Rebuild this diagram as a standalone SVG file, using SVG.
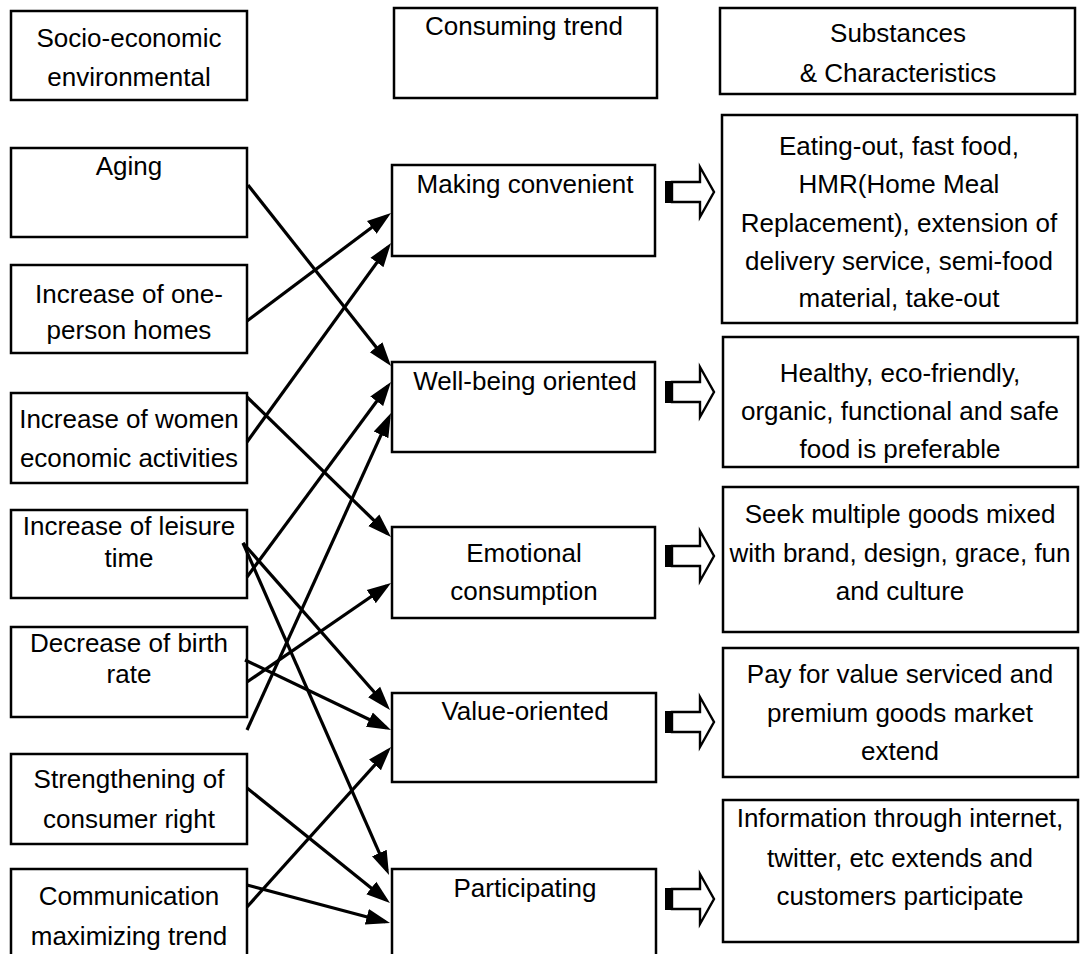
<svg xmlns="http://www.w3.org/2000/svg" width="1084" height="954" viewBox="0 0 1084 954">
<style>
.box{fill:#fff;stroke:#000;stroke-width:2.5}
text{font-family:"Liberation Sans",Arial,sans-serif;font-size:26px;fill:#000;text-anchor:middle}
.c{stroke:#000;stroke-width:3.2;fill:none;marker-end:url(#ah)}
.bar{fill:#000}
.blk{fill:#fff;stroke:#000;stroke-width:2.4;stroke-linejoin:miter}
</style>
<defs>
<marker id="ah" markerUnits="userSpaceOnUse" markerWidth="24" markerHeight="18" viewBox="0 0 24 18" refX="19" refY="9" orient="auto">
<path d="M0,1 L24,9 L0,17 z" fill="#000"/>
</marker>
</defs>
<rect width="1084" height="954" fill="#fff"/>

<g id="h-left"><rect class="box" x="11" y="11" width="236" height="89"/><text x="129" y="47">Socio-economic</text><text x="129" y="86">environmental</text></g>
<g id="h-mid"><rect class="box" x="394" y="8" width="263" height="90"/><text x="524" y="35">Consuming trend</text></g>
<g id="h-right"><rect class="box" x="720" y="8" width="355" height="86"/><text x="898" y="42">Substances</text><text x="898" y="82">&amp; Characteristics</text></g>

<g id="aging"><rect class="box" x="11" y="148" width="236" height="89"/><text x="129" y="175">Aging</text></g>
<g id="oneperson"><rect class="box" x="11" y="265" width="236" height="88"/><text x="129" y="303">Increase of one-</text><text x="129" y="339">person homes</text></g>
<g id="women"><rect class="box" x="11" y="393" width="236" height="90"/><text x="129" y="428">Increase of women</text><text x="129" y="467">economic activities</text></g>
<g id="leisure"><rect class="box" x="11" y="510" width="236" height="88"/><text x="129" y="535">Increase of leisure</text><text x="129" y="567">time</text></g>
<g id="birth"><rect class="box" x="11" y="627" width="236" height="90"/><text x="129" y="652">Decrease of birth</text><text x="129" y="683">rate</text></g>
<g id="consumer"><rect class="box" x="11" y="754" width="236" height="90"/><text x="129" y="788">Strengthening of</text><text x="129" y="828">consumer right</text></g>
<g id="communication"><rect class="box" x="11" y="869" width="236" height="100"/><text x="129" y="905">Communication</text><text x="129" y="945">maximizing trend</text></g>

<g id="convenient"><rect class="box" x="392" y="165" width="263" height="91"/><text x="525" y="193">Making convenient</text></g>
<g id="wellbeing"><rect class="box" x="392" y="362" width="263" height="90"/><text x="525" y="390">Well-being oriented</text></g>
<g id="emotional"><rect class="box" x="392" y="527" width="263" height="91"/><text x="524" y="562">Emotional</text><text x="524" y="600">consumption</text></g>
<g id="value"><rect class="box" x="392" y="693" width="264" height="89"/><text x="525" y="720">Value-oriented</text></g>
<g id="participating"><rect class="box" x="392" y="869" width="264" height="100"/><text x="525" y="897">Participating</text></g>

<g id="r1"><rect class="box" x="722" y="115" width="355" height="208"/><text x="899" y="155">Eating-out, fast food,</text><text x="899" y="193">HMR(Home Meal</text><text x="899" y="232">Replacement), extension of</text><text x="899" y="270">delivery service, semi-food</text><text x="899" y="307">material, take-out</text></g>
<g id="r2"><rect class="box" x="723" y="337" width="355" height="130"/><text x="900" y="382">Healthy, eco-friendly,</text><text x="900" y="420">organic, functional and safe</text><text x="900" y="458">food is preferable</text></g>
<g id="r3"><rect class="box" x="723" y="487" width="355" height="145"/><text x="900" y="523">Seek multiple goods mixed</text><text x="900" y="562">with brand, design, grace, fun</text><text x="900" y="600">and culture</text></g>
<g id="r4"><rect class="box" x="723" y="648" width="355" height="129"/><text x="900" y="683">Pay for value serviced and</text><text x="900" y="722">premium goods market</text><text x="900" y="760">extend</text></g>
<g id="r5"><rect class="box" x="723" y="800" width="355" height="142"/><text x="900" y="827">Information through internet,</text><text x="900" y="867">twitter, etc extends and</text><text x="900" y="905">customers participate</text></g>

<g id="block-arrows">
<g transform="translate(0,192)"><path class="blk" d="M672,-10 H700 V-25 L714,0 L700,25 V10 H672 Z"/><rect class="bar" x="665" y="-11" width="8" height="22"/></g>
<g transform="translate(0,392)"><path class="blk" d="M672,-10 H700 V-25 L714,0 L700,25 V10 H672 Z"/><rect class="bar" x="665" y="-11" width="8" height="22"/></g>
<g transform="translate(0,556)"><path class="blk" d="M672,-10 H700 V-25 L714,0 L700,25 V10 H672 Z"/><rect class="bar" x="665" y="-11" width="8" height="22"/></g>
<g transform="translate(0,722)"><path class="blk" d="M672,-10 H700 V-25 L714,0 L700,25 V10 H672 Z"/><rect class="bar" x="665" y="-11" width="8" height="22"/></g>
<g transform="translate(0,899)"><path class="blk" d="M672,-10 H700 V-25 L714,0 L700,25 V10 H672 Z"/><rect class="bar" x="665" y="-11" width="8" height="22"/></g>
</g>

<g id="connectors">
<line class="c" x1="248" y1="185" x2="387.9" y2="362.1"/>
<line class="c" x1="247" y1="321" x2="387" y2="216"/>
<line class="c" x1="247" y1="397" x2="387.4" y2="533.5"/>
<line class="c" x1="247" y1="442" x2="388.1" y2="247.1"/>
<line class="c" x1="247" y1="577" x2="388" y2="386"/>
<line class="c" x1="243" y1="543" x2="386.7" y2="706.2"/>
<line class="c" x1="243" y1="543" x2="387" y2="870.4"/>
<line class="c" x1="245" y1="660" x2="386.5" y2="727.8"/>
<line class="c" x1="247" y1="682" x2="386.9" y2="585.8"/>
<line class="c" x1="247" y1="730" x2="388.9" y2="417.6"/>
<line class="c" x1="247" y1="788" x2="386.1" y2="899.9"/>
<line class="c" x1="247" y1="885" x2="385.2" y2="921.7"/>
<line class="c" x1="247" y1="907" x2="387.7" y2="750.7"/>
</g>
</svg>
